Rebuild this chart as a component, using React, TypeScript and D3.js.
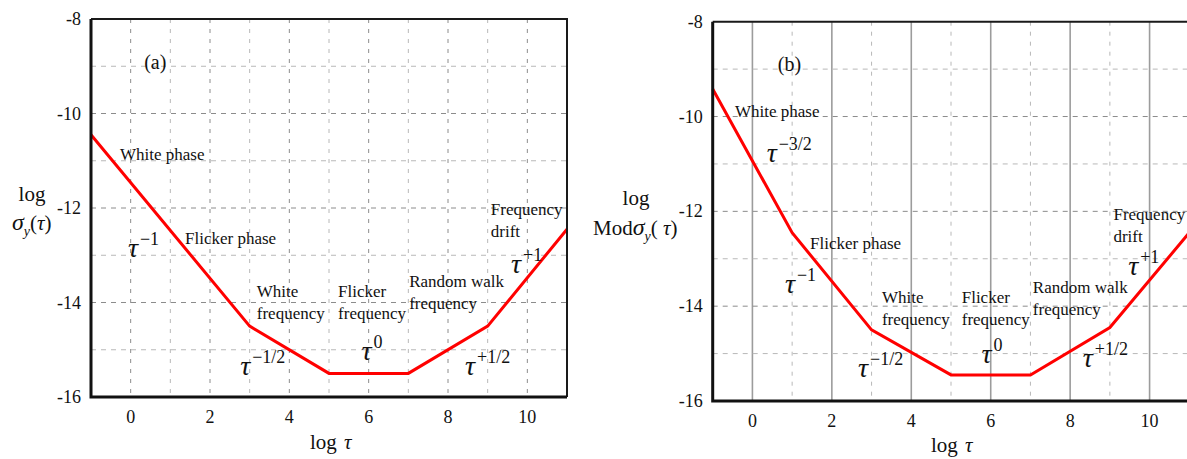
import React, { useEffect } from 'react'
import { scaleLinear, line, range } from 'd3'

// break points of the two stability curves (log tau, log sigma)
const logTauA = [-1, 3, 5, 7, 9, 11]
const logSigmaA = [-10.45, -14.5, -15.5, -15.5, -14.5, -12.45]

const logTauB = [-1, 1, 3, 5, 7, 9, 11]
const logModSigmaB = [-9.42, -12.45, -14.5, -15.45, -15.45, -14.45, -12.45]

const xTicks = [0, 2, 4, 6, 8, 10]
const yTicks = [-8, -10, -12, -14, -16]

// noise names and slopes, placed in data units
const namesA = [
  { text: ['White phase'], at: [-0.27, -10.98] },
  { text: ['Flicker phase'], at: [1.37, -12.76] },
  { text: ['White', 'frequency'], at: [3.18, -13.88] },
  { text: ['Flicker', 'frequency'], at: [5.23, -13.88] },
  { text: ['Random walk', 'frequency'], at: [7.02, -13.67] },
  { text: ['Frequency', 'drift'], at: [9.08, -12.15] },
]
const slopesA = [
  { sup: '\u22121', at: [-0.07, -13.04] },
  { sup: '\u22121/2', at: [2.76, -15.53] },
  { sup: '0', at: [5.82, -15.22] },
  { sup: '+1/2', at: [8.43, -15.53] },
  { sup: '+1', at: [9.59, -13.38] },
]

const namesB = [
  { text: ['White phase'], at: [-0.44, -10.01] },
  { text: ['Flicker phase'], at: [1.45, -12.8] },
  { text: ['White', 'frequency'], at: [3.26, -13.93] },
  { text: ['Flicker', 'frequency'], at: [5.27, -13.93] },
  { text: ['Random walk', 'frequency'], at: [7.06, -13.72] },
  { text: ['Frequency', 'drift'], at: [9.09, -12.18] },
]
const slopesB = [
  { sup: '\u22123/2', at: [0.36, -10.95] },
  { sup: '\u22121', at: [0.82, -13.72] },
  { sup: '\u22121/2', at: [2.66, -15.49] },
  { sup: '0', at: [5.77, -15.2] },
  { sup: '+1/2', at: [8.32, -15.28] },
  { sup: '+1', at: [9.46, -13.34] },
]

const INK = '#111'

const panels = [
  {
    key: 'a',
    box: { left: 91, top: 19, right: 567, bottom: 397 },
    solidMajor: false,
    tau: logTauA, sigma: logSigmaA, names: namesA, slopes: slopesA,
    letter: { text: '(a)', at: [0.34, -9.06] },
    yTitle: { log: [32, 201], sigma: [12, 230], mod: false },
    xTitle: [310, 449],
  },
  {
    key: 'b',
    box: { left: 712.7, top: 21.7, right: 1189.3, bottom: 401 },
    solidMajor: true,
    tau: logTauB, sigma: logModSigmaB, names: namesB, slopes: slopesB,
    letter: { text: '(b)', at: [0.64, -9.04] },
    yTitle: { log: [636, 205], sigma: [593, 235], mod: true },
    xTitle: [931, 452],
  },
]

const even = d => Math.abs(d) % 2 === 0

const T = ({ children, ...rest }) => (
  <text style={{ fontFamily: 'Liberation Serif' }} fill={INK} {...rest}>{children}</text>
)

const Panel = ({ p }) => {
  const x = scaleLinear().domain([-1, 11]).range([p.box.left, p.box.right])
  const y = scaleLinear().domain([-16, -8]).range([p.box.bottom, p.box.top])
  const pts = p.tau.map((t, i) => [t, p.sigma[i]])
  const path = line().x(d => x(d[0])).y(d => y(d[1]))(pts)

  return (
    <g>
      {/* grid */}
      {range(0, 11).map(d => (
        <line
          key={'v' + d}
          x1={x(d)} x2={x(d)} y1={y(-8)} y2={y(-16)}
          stroke={even(d) ? (p.solidMajor ? '#9c9c9c' : '#8c8c8c') : '#b8b8b8'}
          strokeWidth={p.solidMajor && even(d) ? 1.6 : 1}
          strokeDasharray={p.solidMajor && even(d) ? undefined : '4,6'}
        />
      ))}
      {range(-15, -8).map(d => (
        <line
          key={'h' + d}
          x1={x(-1)} x2={x(11)} y1={y(d)} y2={y(d)}
          stroke={even(d) ? '#8c8c8c' : '#b8b8b8'}
          strokeDasharray="5,5"
        />
      ))}

      <path d={path} fill="none" stroke="#ff0000" strokeWidth={3} />

      {/* frame */}
      <path d={`M${x(-1)},${y(-8)}H${x(11)}V${y(-16)}`} fill="none" stroke="#1a1a1a" strokeWidth={2} />
      <path d={`M${x(-1)},${y(-8)}V${y(-16)}H${x(11)}`} fill="none" stroke="#111" strokeWidth={3} />

      {yTicks.map(d => (
        <T key={'yl' + d} x={p.box.left - 10} y={y(d) + 6} textAnchor="end" fontSize={18}>{String(d)}</T>
      ))}
      {xTicks.map(d => (
        <T key={'xl' + d} x={x(d)} y={p.box.bottom + 26} textAnchor="middle" fontSize={18}>{String(d)}</T>
      ))}

      {p.names.map(n =>
        n.text.map((s, i) => (
          <T key={n.text[0] + s + i} x={x(n.at[0])} y={y(n.at[1]) + i * 22} fontSize={17}>{s}</T>
        ))
      )}

      {p.slopes.map(s => (
        <g key={s.sup + s.at[0]}>
          <T x={x(s.at[0])} y={y(s.at[1])} fontSize={28} fontStyle="italic">{'\u03c4'}</T>
          <T x={x(s.at[0]) + 12} y={y(s.at[1]) - 12} fontSize={18}>{s.sup}</T>
        </g>
      ))}

      <T x={x(p.letter.at[0])} y={y(p.letter.at[1])} fontSize={20}>{p.letter.text}</T>

      <T x={p.yTitle.log[0]} y={p.yTitle.log[1]} textAnchor="middle" fontSize={21}>log</T>
      <T x={p.yTitle.sigma[0]} y={p.yTitle.sigma[1]} fontSize={21}>
        {p.yTitle.mod ? <tspan>Mod</tspan> : null}
        <tspan fontStyle="italic" fontSize={24}>{'\u03c3'}</tspan>
        <tspan fontStyle="italic" fontSize={14} dy={6}>y</tspan>
        <tspan dy={-6}>{p.yTitle.mod ? '( ' : '('}</tspan>
        <tspan fontStyle="italic">{'\u03c4'}</tspan>
        <tspan>)</tspan>
      </T>

      <T x={p.xTitle[0]} y={p.xTitle[1]} fontSize={21}>
        <tspan>log </tspan>
        <tspan fontStyle="italic" dx={2}>{'\u03c4'}</tspan>
      </T>
    </g>
  )
}

const App = () => {
  useEffect(() => {
    document.body.style.margin = '0'
  }, [])

  return (
    <svg width={1187} height={459}>
      {panels.map(p => <Panel key={p.key} p={p} />)}
    </svg>
  )
}

export default App
